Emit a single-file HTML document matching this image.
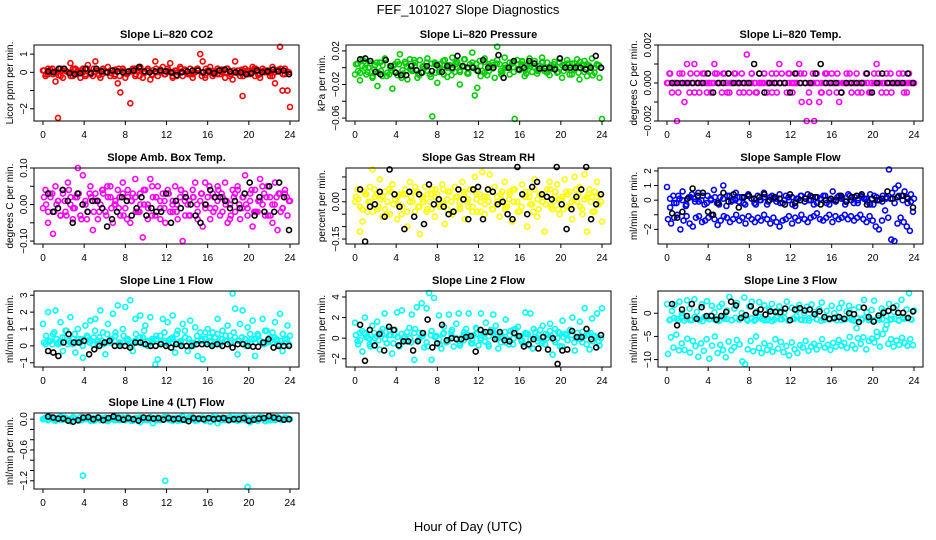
<!DOCTYPE html>
<html><head><meta charset="utf-8"><style>
html,body{margin:0;padding:0;background:#fff}
svg{display:block;font-family:"Liberation Sans",sans-serif}
</style></head><body>
<svg id="chart" width="936" height="540" viewBox="0 0 936 540">
<text x="468" y="14" text-anchor="middle" font-size="13">FEF_101027  Slope Diagnostics</text>
<text x="468" y="531" text-anchor="middle" font-size="13">Hour of Day (UTC)</text>
</svg>
<script>
const xTicks=[0,4,8,12,16,20,24];
const p1Color=[0.1,-0.2,0.2,0.0,-0.1,-0.5,-2.5,0.2,-0.3,0.1,0.0,0.5,-0.2,0.2,0.1,-0.3,0.2,-0.1,0.4,0.0,-0.2,0.6,0.1,-0.3,0.2,0.0,0.3,-0.2,0.1,-0.1,-0.6,-1.1,0.2,-0.3,0.0,-1.7,0.2,-0.2,0.1,0.3,-0.3,0.0,0.2,-0.4,0.1,0.6,-0.2,0.0,0.3,-0.1,0.2,0.5,-0.3,0.1,0.0,0.3,-0.2,0.1,-0.1,0.2,-0.3,0.0,0.2,1.0,0.6,-0.3,0.1,0.3,-0.2,0.0,0.2,-0.1,0.1,-0.3,0.2,0.0,-0.4,0.6,0.1,-0.2,-1.3,0.2,-0.1,0.0,0.3,-0.2,0.1,-0.3,0.2,0.0,0.1,-0.2,0.3,-0.6,0.1,1.4,-1.0,0.2,-1.0,-1.9];
const p1Band=[0.1,-0.1,0.2,0.0,-0.2,0.1,0.0,0.2,-0.1,0.1,-0.2,0.0,0.2,0.1,-0.1,0.0,0.1,-0.2,0.2,0.0,-0.1,0.1,0.2,-0.2,0.0,0.1,-0.1,0.2,0.0,-0.1,0.1,0.0,-0.2,0.2,0.1,-0.1,0.0,0.1,-0.2,0.2,0.0,-0.1,0.1,0.0,0.2,-0.1,0.0,0.1,-0.2,0.1,0.0,0.2,-0.1,0.1,0.0,-0.2,0.1,0.2,-0.1,0.0];
const p1Extra=[-0.1,0.15,0.0,-0.15,0.1,0.05,-0.2,0.15,-0.05,0.0,0.2,-0.1,0.05,-0.15,0.1,0.0,-0.05,0.15,-0.2,0.1,0.0,0.05,-0.1,0.2,-0.05,0.1,-0.15,0.0,0.15,-0.1,0.05,-0.2,0.1,0.0,0.15,-0.05,-0.1,0.2,0.0,-0.15,0.1,0.05,-0.1,0.15,0.0,-0.2,0.1,-0.05,0.15,0.0,-0.1,0.2,-0.15,0.05,0.1,-0.05,0.0,0.15,-0.1,0.05];
const p1Black=[0.05,0.0,0.2,0.2,-0.05,-0.1,-0.05,0.2,-0.05,0.2,0.05,0.0,0.1,0.05,0.0,0.05,0.1,0.3,0.05,0.0,0.05,0.1,0.05,0.0,-0.15,0.0,0.05,0.1,0.1,0.0,0.05,-0.05,0.1,0.15,0.05,0.0,0.0,-0.1,-0.05,0.1,0.0,0.05,0.15,0.05,0.1,-0.1];
const p2Color=[-0.008,0.005,-0.015,0.01,0.0,-0.005,0.008,-0.012,0.003,-0.022,0.006,-0.01,0.011,-0.006,0.002,-0.025,0.004,-0.009,0.016,-0.003,0.007,-0.014,0.01,-0.004,0.002,-0.012,0.009,-0.006,0.0,0.011,-0.008,-0.058,0.006,-0.018,0.004,-0.002,0.009,-0.011,0.003,0.012,-0.005,0.007,-0.02,0.001,0.01,-0.007,0.004,0.018,-0.033,-0.024,0.008,-0.004,0.011,-0.009,0.002,0.006,-0.012,0.025,0.004,-0.006,0.012,0.0,-0.008,0.005,-0.061,0.009,-0.003,0.007,-0.01,0.003,0.011,-0.005,0.008,-0.007,0.002,0.012,-0.004,0.006,-0.009,0.0,0.007,-0.006,0.011,-0.012,0.003,0.009,-0.008,0.005,-0.002,0.01,-0.014,0.004,0.008,-0.01,0.002,0.011,-0.006,0.003,-0.012,-0.061];
const p2Band=[0.004,-0.006,0.008,0.0,-0.01,0.006,-0.004,0.01,-0.008,0.002,0.007,-0.012,0.005,-0.002,0.009,-0.007,0.001,0.006,-0.011,0.004,-0.005,0.008,0.0,-0.009,0.006,-0.003,0.01,-0.006,0.002,0.005,-0.01,0.007,-0.004,0.003,0.009,-0.008,0.0,0.006,-0.005,0.004,0.008,-0.007,0.002,0.005,-0.003,0.007,-0.006,0.003,0.0,0.006,-0.004,0.005,-0.008,0.002,0.007,-0.005,0.003,-0.009,0.004,0.0];
const p2Extra=[-0.004,0.002,-0.008,0.005,-0.002,-0.006,0.003,-0.01,0.0,-0.005,0.004,-0.007,0.001,-0.003,0.006,-0.009,0.002,-0.004,0.005,-0.006,0.0,-0.008,0.003,-0.002,0.004,-0.005,0.001,-0.007,0.006,-0.003,0.002,-0.006,0.004,-0.001,0.005,-0.004,0.003,0.0,0.006,-0.002,0.004,-0.003,0.005,0.001,-0.004,0.006,0.0,-0.002,0.004,-0.005,0.003,0.001,-0.003,0.005,-0.006,0.002,0.004,-0.004,0.0,0.003];
const p2Black=[0.010,0.011,0.008,-0.005,-0.008,0.009,0.002,-0.006,-0.009,-0.009,0.002,-0.003,-0.006,0.002,-0.004,0.003,-0.005,0.002,0.0,0.014,0.002,0.0,0.0,-0.004,0.009,0.0,0.0,0.015,-0.012,0.0,0.008,-0.002,0.0,0.008,0.005,-0.001,-0.001,0.0,-0.002,0.011,0.0,0.0,0.0,0.0,-0.002,0.0,0.014,0.0];
const p3Color=[0,0.0005,-0.0005,0,-0.002,0.0005,0,-0.001,0.001,-0.0005,0,0.001,0.0005,-0.0005,0,0.0005,-0.0005,0,0,0.001,0.0005,0,-0.0005,0.0005,0,-0.0005,0,0.0005,0,-0.0005,0.0005,0,0.0015,-0.0005,0.0005,0,-0.0005,0.0005,0,0.0005,-0.0005,0,0.0005,0,-0.0005,0.001,0.0005,0,-0.0005,0.0005,0,0,0.0005,0.001,-0.001,0.0005,-0.002,-0.001,0,-0.002,0.0005,-0.001,-0.0005,0,0.0005,-0.0005,0.0005,0,-0.0005,-0.001,-0.0005,0,0.0005,0,-0.0005,0,0.0005,0,-0.0005,0,0.0005,-0.0005,0,0.0005,0.001,0,-0.0005,0,0.0005,0,-0.0005,0,0,0.0005,0,-0.0005,0,0.0005,0,0];
const p3Band=[0,0,0,0,0,0,0,0,0,0,0,0,0,0,0,0,0,0,0,0,0,0,0,0,0,0,0,0,0,0,0,0,0,0,0,0,0,0,0,0,0,0,0,0,0,0,0,0,0,0,0,0,0,0,0,0,0,0,0,0];
const p3Extra=[0.0005,0,-0.0005,0.0005,0,0.0005,-0.0005,0,0.0005,0,-0.0005,0.0005,0,0.0005,-0.0005,0,0.0005,0,-0.0005,0,0.0005,-0.0005,0,0.0005,0,-0.0005,0.0005,0,0,0.0005,-0.0005,0,0.0005,0,-0.0005,0.0005,0,-0.0005,0.0005,0,0,0.0005,-0.0005,0,0.0005,0,-0.0005,0,0.0005,-0.0005,0,0.0005,0,-0.0005,0.0005,0,0,0.0005,-0.0005,0];
const p3Black=[0,0,0,0,0,0,0,0.0005,-0.0005,0,0,0.0005,0,0,0,0,0.001,0.0005,-0.0005,0,0,0,0,-0.0005,0.0005,0,0,0,0.0005,0.001,0,0,0,-0.0005,0,0,0,0,0.0005,-0.0005,0,0.0005,0,0,0,0,0.0005,0];
const p4Color=[-0.01,0.04,-0.05,0.02,-0.08,0.05,0.01,-0.03,0.03,-0.02,0.06,0.0,-0.04,0.02,0.1,-0.03,0.08,0.01,-0.02,0.05,-0.07,0.03,-0.04,0.0,0.04,-0.02,0.02,0.05,-0.05,0.01,0.04,-0.03,0.06,-0.01,0.02,-0.05,0.03,0.07,-0.02,0.0,-0.09,0.04,-0.04,0.07,0.02,-0.03,0.05,-0.01,0.03,-0.05,0.04,-0.02,0.01,0.05,-0.04,0.02,-0.1,0.03,0.0,-0.03,0.04,0.06,-0.02,0.01,-0.06,0.06,0.02,-0.04,0.03,-0.01,0.05,-0.03,0.02,0.06,-0.05,0.0,0.04,-0.02,0.05,-0.04,0.02,0.08,-0.03,0.01,-0.06,0.04,-0.02,0.07,0.0,-0.03,0.05,0.02,-0.05,0.06,-0.07,0.03,-0.01,0.04,-0.03,0.01];
const p4Band=[0.02,-0.02,0.03,0.0,-0.03,0.01,0.04,-0.01,0.02,-0.04,0.0,0.03,-0.02,0.01,0.04,-0.03,0.02,0.0,-0.01,0.03,-0.04,0.01,0.02,-0.02,0.04,0.0,-0.03,0.02,0.01,-0.01,0.03,-0.02,0.0,0.04,-0.03,0.01,0.02,-0.04,0.03,0.0,-0.01,0.02,0.04,-0.02,0.01,-0.03,0.03,0.0,0.02,-0.01,0.04,-0.02,0.01,0.03,-0.03,0.0,0.02,-0.02,0.03,0.01];
const p4Extra=[0.0,0.03,-0.02,0.01,0.04,-0.03,0.02,-0.01,0.03,0.0,-0.04,0.02,0.01,-0.02,0.03,0.05,-0.01,0.0,0.02,-0.03,0.04,0.01,-0.02,0.03,0.0,-0.01,0.05,0.02,-0.04,0.01,0.03,0.0,-0.02,0.04,0.01,-0.03,0.02,0.0,0.03,-0.01,0.05,-0.02,0.01,0.03,0.0,-0.04,0.02,0.04,-0.01,0.0,0.03,-0.02,0.01,0.05,0.02,-0.03,0.0,0.03,-0.01,0.02];
const p4Black=[0.03,-0.02,-0.01,0.04,0.01,-0.05,0.03,0.0,-0.02,0.01,0.01,-0.01,-0.06,-0.04,-0.02,0.02,0.01,-0.03,-0.01,0.02,-0.03,-0.01,-0.02,-0.02,0.03,-0.05,0.01,-0.01,0.02,0.0,-0.03,-0.05,0.0,0.04,0.02,0.02,0.01,-0.01,0.01,-0.01,0.03,0.06,-0.03,0.02,-0.02,0.05,-0.02,0.06,0.02,-0.07];
const p5Color=[0.0,0.05,-0.12,-0.08,0.03,-0.04,0.06,0.13,0.02,-0.03,0.09,-0.06,0.04,0.0,-0.05,0.07,0.01,-0.07,0.03,-0.02,0.05,-0.1,0.08,0.0,-0.04,0.04,-0.13,0.02,0.06,-0.03,0.0,0.05,-0.06,0.03,-0.02,0.07,-0.09,0.01,0.04,-0.05,0.06,0.02,-0.03,0.08,-0.07,0.0,0.05,-0.02,0.1,-0.04,0.03,0.12,-0.05,0.02,0.11,-0.03,0.06,0.0,-0.06,0.04,0.08,-0.02,0.03,-0.08,0.05,0.0,-0.04,0.07,0.02,-0.1,0.04,-0.01,0.09,-0.06,0.03,0.0,-0.12,0.05,0.08,-0.03,0.02,0.07,-0.05,0.01,0.09,-0.02,0.04,-0.07,0.1,0.0,0.06,-0.03,0.11,-0.12,0.05,0.02,-0.04,0.08,0.03,-0.08];
const p5Band=[0.02,-0.02,0.04,0.0,-0.04,0.03,0.01,-0.03,0.05,-0.01,0.02,-0.05,0.03,0.0,0.04,-0.02,0.01,-0.04,0.03,0.02,-0.01,0.05,-0.03,0.0,0.02,-0.02,0.04,0.01,-0.04,0.03,0.0,-0.01,0.05,-0.03,0.02,0.01,-0.02,0.04,0.0,-0.04,0.03,0.02,-0.01,0.05,-0.03,0.0,0.02,-0.02,0.04,0.01,-0.03,0.03,0.0,0.05,-0.02,0.01,0.03,-0.04,0.02,0.0];
const p5Extra=[0.01,-0.03,0.03,0.0,0.05,-0.02,0.02,-0.05,0.04,0.01,-0.01,0.03,-0.04,0.02,0.06,-0.02,0.0,0.03,-0.03,0.05,0.01,-0.01,0.04,-0.05,0.02,0.0,0.03,-0.02,0.05,0.01,-0.04,0.02,0.0,0.04,-0.01,0.03,-0.03,0.01,0.05,0.0,-0.02,0.04,0.02,-0.04,0.01,0.03,-0.01,0.05,0.0,-0.03,0.02,0.04,-0.02,0.01,0.03,-0.05,0.02,0.0,0.04,-0.01];
const p5Black=[0.05,-0.16,-0.02,-0.01,0.04,-0.06,0.13,0.03,-0.02,-0.11,0.04,-0.06,0.03,-0.09,0.07,-0.01,0.01,-0.02,-0.05,-0.04,0.05,0.01,-0.07,0.05,0.06,-0.07,0.05,0.04,-0.01,0.0,-0.05,-0.07,0.14,0.03,-0.05,0.06,0.08,0.03,0.02,0.01,0.14,-0.01,-0.11,-0.03,0.02,0.05,0.14,-0.07,-0.01,0.03];
const p6Color=[0.9,-0.5,0.3,-0.2,0.1,0.6,-0.4,0.2,0.4,-0.1,0.5,0.0,-0.3,0.3,0.1,0.7,-0.2,0.2,1.0,-0.4,0.3,0.0,0.5,-0.1,0.2,-0.3,0.4,0.1,-0.2,0.3,0.0,0.5,-0.3,0.2,0.1,-0.1,0.4,-0.2,0.3,0.0,0.2,-0.4,0.1,0.3,-0.1,0.4,0.0,-0.3,0.2,0.1,0.3,-0.2,0.0,0.6,-0.1,0.3,0.2,-0.3,0.4,0.0,0.2,-0.2,0.3,0.1,-0.1,0.4,-0.3,0.2,0.0,0.3,0.1,2.1,0.5,0.8,1.0,0.3,0.6,-0.2,0.4,0.1];
const p6Band=[-1.3,-1.6,-1.2,-1.0,-2.0,-1.4,-1.1,-1.6,-1.8,-1.2,-1.1,-1.5,-1.4,-1.2,-1.0,-1.3,-1.7,-1.4,-1.1,-1.2,-1.5,-1.3,-1.0,-1.4,-1.2,-1.6,-1.1,-1.3,-1.5,-1.2,-1.4,-1.0,-1.3,-1.6,-1.2,-1.5,-1.8,-1.4,-1.3,-1.1,-1.6,-1.2,-1.4,-1.0,-1.3,-1.5,-1.2,-1.1,-0.9,-1.3,-1.4,-1.2,-1.0,-1.5,-1.1,-1.3,-1.2,-1.0,-1.3,-1.1,-1.4,-1.2,-1.0,-1.3,-1.5,-1.1,-1.4,-1.8,-2.0,-1.4,-0.7,-1.2,-2.7,-2.8,-1.6,-1.2,-1.5,-1.8,-2.1,-0.8];
const p6Extra=[0.1,-0.2,0.3,0.0,-0.3,0.2,0.1,-0.1,0.3,-0.2,0.0,0.2,-0.3,0.1,0.3,-0.1,0.0,0.2,-0.2,0.3,0.1,-0.3,0.0,0.2,-0.1,0.3,0.1,-0.2,0.0,0.2,-0.3,0.1,0.3,-0.1,0.0,0.2,-0.2,0.1,0.3,-0.3,0.0,0.2,0.1,-0.1,0.3,-0.2,0.0,0.2,0.1,-0.3,0.3,0.0,-0.1,0.2,0.1,-0.2,0.3,0.0,0.2,-0.1];
const p6Black=[-0.9,-1.2,-0.8,0.1,0.8,0.3,0.5,-0.8,-1.0,-0.2,0.5,-0.1,0.4,-0.5,0.2,0.3,0.1,0.2,0.4,0.0,0.2,0.1,-0.3,0.4,-0.2,0.0,0.1,0.3,0.2,-0.3,0.0,0.1,0.0,0.3,-0.1,0.2,0.3,0.4,-0.3,0.1,0.0,0.1,0.6,0.1,0.2,0.3,0.1,-0.5];
const p7Color=[1.3,0.1,2.0,0.3,0.7,2.1,0.2,1.4,-0.3,0.9,0.1,1.7,0.4,-0.4,1.0,0.2,-0.7,1.2,0.5,1.5,0.1,1.6,0.3,2.1,0.8,-0.5,1.3,0.2,1.9,0.6,2.4,0.1,1.0,2.3,0.4,2.7,-0.3,1.6,0.2,1.8,0.5,1.2,0.0,1.7,0.3,-1.1,-0.8,0.6,1.6,0.2,1.4,0.4,1.8,-0.4,0.9,0.1,1.3,0.5,-0.3,1.5,0.2,1.1,-0.6,0.8,-0.8,0.4,1.0,0.2,0.8,0.5,1.6,0.1,0.9,0.3,1.2,0.6,3.1,2.2,-0.5,1.3,2.1,0.4,1.1,0.2,1.5,-0.6,0.7,0.3,1.6,0.9,0.2,0.5,0.8,1.4,0.3,1.9,-0.3,0.4,1.2,0.6];
const p7Band=[0.2,0.3,0.1,0.4,0.2,0.5,0.3,0.1,0.2,0.4,0.3,0.2,0.5,0.1,0.3,0.2,0.4,0.3,0.1,0.2,0.4,0.2,0.3,0.5,0.1,0.3,0.2,0.4,0.2,0.3,0.1,0.4,0.2,0.3,0.5,0.2,0.1,0.3,0.4,0.2,0.3,0.1,0.2,0.4,0.3,0.2,0.5,0.3,0.1,0.2,0.4,0.2,0.3,0.1,0.3,0.2,0.4,0.3,0.2,0.1];
const p7Extra=[0.6,0.3,0.8,0.1,0.5,0.9,0.2,0.7,0.4,0.0,0.6,0.3,0.9,0.5,0.1,0.7,0.4,0.8,0.2,0.6,0.3,0.0,0.7,0.5,0.9,0.2,0.4,0.6,0.1,0.8,0.3,0.5,0.7,0.2,0.9,0.4,0.0,0.6,0.3,0.8,0.5,0.1,0.7,0.4,0.6,0.2,0.8,0.3,0.5,0.0,0.7,0.4,0.6,0.2,0.9,0.3,0.5,0.1,0.7,0.4];
const p7Black=[-0.3,-0.4,-0.6,0.2,0.7,0.2,0.2,0.3,-0.5,-0.2,0.0,0.2,0.3,0.0,0.0,0.0,-0.1,0.2,0.2,0.1,0.0,0.0,0.1,0.0,-0.1,0.1,0.0,0.0,0.0,0.1,0.1,0.1,0.0,0.1,0.0,0.1,-0.1,0.1,0.1,0.0,-0.05,-0.05,0.2,0.4,-0.1,0.0,0.0,0.0];
const p8Color=[1.5,-0.3,0.5,-1.3,2.0,0.2,-0.6,1.2,0.0,1.6,-1.1,0.4,2.4,-0.5,0.8,-1.5,0.3,2.5,-0.8,2.7,0.1,-0.3,1.0,2.3,-2.1,3.0,0.5,3.4,-0.9,2.9,4.4,-2.1,3.9,0.2,2.2,-1.0,1.1,-0.4,2.3,0.6,-0.8,1.4,2.4,0.0,-0.2,0.9,2.4,-0.5,0.3,1.0,-0.7,2.4,0.5,1.5,-0.6,0.8,2.3,1.2,-1.0,0.4,0.0,1.8,-0.3,0.7,-0.6,0.9,1.1,0.2,-0.5,2.5,0.4,2.4,-1.0,0.6,-0.3,0.8,1.2,-0.6,0.3,1.4,-1.6,0.9,0.0,-0.8,1.7,0.4,-0.2,0.8,2.0,-1.2,0.5,1.6,-0.4,2.9,0.3,-1.1,1.9,0.2,2.4,-0.7,2.9];
const p8Band=[0.3,-0.2,0.5,0.0,-0.4,0.2,0.6,-0.1,0.3,-0.5,0.1,0.4,-0.3,0.0,0.5,-0.2,0.2,-0.4,0.3,0.1,-0.1,0.4,-0.3,0.2,0.0,-0.5,0.3,0.1,-0.2,0.4,0.0,-0.3,0.2,0.5,-0.1,0.1,-0.4,0.3,0.0,0.2,-0.2,0.4,-0.1,0.1,0.3,-0.3,0.0,0.2,-0.4,0.5,0.1,-0.2,0.3,0.0,-0.1,0.2,0.4,-0.3,0.1,0.0];
const p8Extra=[-0.6,0.7,0.1,-0.8,0.5,-0.2,0.9,-0.5,0.3,0.8,-0.7,0.0,0.6,-0.4,0.9,-0.1,0.4,-0.8,0.7,0.2,-0.6,0.5,-0.3,0.8,0.0,-0.7,0.6,0.3,-0.5,0.9,-0.2,0.4,-0.8,0.7,0.1,-0.4,0.6,-0.6,0.8,0.2,-0.3,0.5,-0.7,0.9,0.0,-0.5,0.4,0.7,-0.2,0.6,-0.8,0.3,0.8,-0.4,0.1,0.6,-0.6,0.5,0.2,-0.3];
const p8Black=[1.3,-2.2,0.8,-0.7,0.4,-1.2,1.1,0.8,-0.7,-0.3,-0.3,-1.2,-0.3,0.5,1.8,-0.9,-0.5,1.3,-0.2,0.0,-0.1,-0.1,0.1,0.2,-1.3,0.8,0.6,0.6,-0.1,0.6,-0.2,-0.3,0.5,0.2,-0.8,-0.6,-0.1,-1.0,0.1,-1.1,0.0,-2.5,-1.2,-1.1,0.7,0.1,0.1,0.9,-0.1,-0.9,0.3];
const p9Color=[2.0,-1.5,0.5,1.8,-1.2,2.5,0.0,-1.6,2.8,1.0,-1.4,3.0,0.3,-1.5,1.9,-0.8,2.6,-1.3,1.6,0.2,-1.6,1.4,2.0,-1.2,0.6,3.5,-1.5,1.0,2.2,-1.4,0.0,3.4,-1.3,1.5,2.5,-1.6,0.4,2.4,-1.2,1.7,-1.5,0.8,2.0,-1.4,0.5,1.5,-1.3,0.2,2.5,-1.5,1.2,-1.2,0.6,1.8,-1.4,0.0,1.4,-1.6,1.9,0.3,-1.3,0.9,2.3,-1.4,0.5,-1.2,1.6,0.0,-1.5,1.1,2.2,-1.3,0.4,1.6,-1.4,0.8,-3.2,1.3,-1.2,2.9,0.2,-1.5,0.7,2.7,-4.0,-1.4,1.0,0.5,-2.5,2.0,-1.3,0.3,1.6,-1.5,2.9,-1.2,0.8,4.3,-1.4,0.6];
const p9Band=[-8.8,-5.2,-7.4,-4.6,-8.0,-6.5,-7.9,-5.5,-8.5,-6.0,-7.1,-9.4,-6.5,-8.1,-5.6,-9.8,-7.0,-5.0,-8.6,-6.8,-7.9,-9.5,-6.1,-8.0,-7.3,-5.8,-6.7,-10.4,-11.0,-7.8,-6.0,-8.2,-5.0,-7.5,-8.6,-6.5,-7.9,-7.0,-8.3,-5.6,-7.6,-6.2,-8.4,-7.1,-9.1,-6.3,-7.8,-8.6,-6.9,-7.4,-6.0,-8.1,-7.2,-6.6,-7.8,-7.0,-5.6,-7.4,-6.8,-7.9,-6.4,-7.2,-5.8,-7.0,-6.4,-7.5,-5.1,-6.9,-7.6,-5.4,-6.6,-5.2,-7.8,-6.0,-5.5,-6.3,-5.0,-7.2,-4.5,-3.4,-6.6,-5.6,-7.2,-5.9,-6.8,-5.3,-6.4,-7.0,-5.6,-6.9];
const p9Extra=[-1.4,-1.0,-1.6,-0.6,-1.2,-1.5,-0.8,-1.3,-1.7,-1.1,-0.5,-1.4,-1.6,-0.9,-1.2,-1.5,-1.0,-1.3,-0.7,-1.6,-1.1,-1.4,-0.8,-1.5,-1.2,-1.7,-0.9,-1.3,-1.0,-1.6,-1.2,-0.6,-1.4,-1.5,-1.1,-0.8,-1.3,-1.6,-1.0,-1.4,-1.2,-0.7,-1.5,-1.3,-0.9,-1.6,-1.1,-1.4,-0.8,-1.2,-1.5,-1.0,-1.3,-0.6,-1.4,-1.2,-1.6,-0.9,-1.1,-1.3];
const p9Black=[2.0,-2.6,0.8,-0.6,2.0,-1.2,1.3,-0.6,-0.6,-1.4,-0.6,0.3,2.5,1.7,-1.0,-0.4,1.5,0.1,0.8,-0.3,0.4,0.3,0.2,1.0,-1.5,0.8,1.1,0.6,0.8,-0.2,0.4,-0.8,-1.2,-1.0,-0.8,-1.2,0.0,-0.2,-1.9,1.2,-0.8,-1.8,-0.5,0.1,0.5,1.2,0.1,0.1,-1.0,0.4];
const p10Color=[0.0,0.03,-0.02,0.04,0.0,-0.03,0.02,0.05,-0.01,0.03,0.0,-0.04,0.02,0.01,-0.02,0.04,-1.1,0.0,0.03,-0.03,0.02,0.0,0.04,-0.02,0.01,0.03,-0.04,0.0,0.02,0.05,-0.01,0.0,0.03,-0.02,0.04,0.01,-0.03,0.02,0.0,-0.06,0.03,0.01,-0.02,0.04,-0.08,0.0,0.03,-0.02,0.01,-1.2,0.04,-0.01,0.02,0.0,-0.03,0.03,0.05,-0.02,0.0,0.02,0.04,-0.03,0.01,0.0,0.03,-0.02,0.02,-0.05,0.04,0.0,-0.08,0.01,0.03,-0.02,0.0,0.04,-0.01,0.02,-0.03,0.03,0.0,0.05,-1.32,-0.06,0.02,0.0,-0.03,0.04,0.01,-0.04,0.02,0.0,0.03,-0.02,0.04,0.0,-0.01,0.03,0.02,0.0];
const p10Band=[0.01,-0.02,0.03,0.0,-0.01,0.02,-0.03,0.04,0.0,-0.02,0.02,0.01,-0.03,0.03,0.0,-0.01,0.02,-0.02,0.04,0.0,0.01,-0.03,0.02,0.0,0.03,-0.01,0.02,-0.02,0.0,0.04,0.01,-0.03,0.02,0.0,-0.01,0.03,0.0,-0.02,0.02,0.01,-0.04,0.03,0.0,0.02,-0.01,0.01,0.03,-0.02,0.0,0.02,-0.03,0.01,0.04,0.0,-0.02,0.02,0.01,-0.01,0.03,0.0];
const p10Extra=[0.0,0.02,-0.02,0.01,0.03,-0.01,0.0,0.02,-0.03,0.01,0.03,0.0,-0.02,0.02,0.01,-0.01,0.03,0.0,-0.02,0.01,0.02,-0.03,0.0,0.03,-0.01,0.02,0.0,-0.02,0.01,0.03,-0.01,0.0,0.02,-0.02,0.01,0.03,0.0,-0.01,0.02,-0.03,0.01,0.0,0.03,-0.02,0.02,0.0,-0.01,0.03,0.01,-0.02,0.0,0.02,-0.01,0.03,0.0,-0.02,0.01,0.02,-0.01,0.0];
const p10Black=[0.05,0.03,0.01,0.01,-0.03,-0.05,-0.02,0.03,0.04,0.0,0.03,-0.02,0.02,0.05,0.02,-0.01,0.02,0.0,-0.03,0.03,0.02,0.01,0.02,-0.01,0.02,0.0,0.01,-0.01,-0.04,0.02,0.01,0.0,0.02,0.0,0.01,0.02,-0.02,0.0,0.0,0.02,-0.03,-0.01,0.01,0.02,0.06,0.03,0.01,-0.01,0.0];

const panels=[
 {name:'co2',title:'Slope Li\u2013820 CO2',ylab:'Licor ppm per min.',col:'#ff0000',c:p1Color,b:p1Band,e:p1Extra,k:p1Black,ymin:-2.67,ymax:1.5,ticks:[-2,-1,0,1],labels:{'-2':'\u22122','0':'0','1':'1'}},
 {name:'pressure',title:'Slope Li\u2013820 Pressure',ylab:'kPa per min.',col:'#00cd00',c:p2Color,b:p2Band,e:p2Extra,k:p2Black,ymin:-0.0635,ymax:0.027,ticks:[-0.06,-0.04,-0.02,0,0.02],labels:{'-0.06':'\u22120.06','-0.02':'\u22120.02','0.02':'0.02'}},
 {name:'temp',title:'Slope Li\u2013820 Temp.',ylab:'degrees C per min.',col:'#ff00ff',c:p3Color,b:p3Band,e:p3Extra,k:p3Black,ymin:-0.002,ymax:0.002,ticks:[-0.002,-0.001,0,0.001,0.002],labels:{'-0.002':'\u22120.002','0':'0.000','0.002':'0.002'}},
 {name:'amb-box-temp',title:'Slope Amb. Box Temp.',ylab:'degrees C per min.',col:'#ff00ff',c:p4Color,b:p4Band,e:p4Extra,k:p4Black,ymin:-0.108,ymax:0.10,ticks:[-0.1,-0.05,0,0.05,0.1],labels:{'-0.1':'\u22120.10','0':'0.00','0.1':'0.10'}},
 {name:'gas-stream-rh',title:'Slope Gas Stream RH',ylab:'percent per min.',col:'#ffff00',c:p5Color,b:p5Band,e:p5Extra,k:p5Black,ymin:-0.17,ymax:0.136,ticks:[-0.15,-0.1,-0.05,0,0.05,0.1],labels:{'-0.15':'\u22120.15','0':'0.00'}},
 {name:'sample-flow',title:'Slope Sample Flow',ylab:'ml/min per min.',col:'#0000ff',c:p6Color,b:p6Band,e:p6Extra,k:p6Black,ymin:-3.0,ymax:2.2,ticks:[-2,-1,0,1,2],labels:{'-2':'\u22122','0':'0','1':'1','2':'2'}},
 {name:'line1-flow',title:'Slope Line 1 Flow',ylab:'ml/min per min.',col:'#00ffff',c:p7Color,b:p7Band,e:p7Extra,k:p7Black,ymin:-1.25,ymax:3.25,ticks:[-1,0,1,2,3],labels:{'-1':'\u22121','0':'0','1':'1','2':'2','3':'3'}},
 {name:'line2-flow',title:'Slope Line 2 Flow',ylab:'ml/min per min.',col:'#00ffff',c:p8Color,b:p8Band,e:p8Extra,k:p8Black,ymin:-2.8,ymax:4.58,ticks:[-2,0,2,4],labels:{'-2':'\u22122','0':'0','2':'2','4':'4'}},
 {name:'line3-flow',title:'Slope Line 3 Flow',ylab:'ml/min per min.',col:'#00ffff',c:p9Color,b:p9Band,e:p9Extra,k:p9Black,ymin:-11.6,ymax:4.8,ticks:[-10,-5,0],labels:{'-10':'\u221210','-5':'\u22125','0':'0'}},
 {name:'line4-flow',title:'Slope Line 4 (LT) Flow',ylab:'ml/min per min.',col:'#00ffff',c:p10Color,b:p10Band,e:p10Extra,k:p10Black,ymin:-1.36,ymax:0.12,ticks:[-1.2,-1.0,-0.8,-0.6,-0.4,-0.2,0],labels:{'-1.2':'\u22121.2','-0.6':'\u22120.6','0':'0.0'}}
];
const NS='http://www.w3.org/2000/svg';
const svg=document.getElementById('chart');
const rowTops=[45,168,291,413];
function mk(tag,attrs,parent){const e=document.createElementNS(NS,tag);for(const a in attrs)e.setAttribute(a,attrs[a]);parent.appendChild(e);return e;}
panels.forEach((p,idx)=>{
  const col=idx%3,row=Math.floor(idx/3);
  const L=34+312*col,R=L+265,T=rowTops[row],B=T+76;
  const g=mk('g',{},svg);
  
  
  const xs=h=>L+9+h*(247/24);
  const ys=v=>B-(v-p.ymin)/(p.ymax-p.ymin)*(B-T);
  const t=mk('text',{x:(L+R)/2,y:T-7,'text-anchor':'middle','font-size':'11','font-weight':'bold'},g);
  t.textContent=p.title;
  
  
  const yl=mk('text',{x:0,y:0,'text-anchor':'middle','font-size':'10',transform:`translate(${L-21},${(T+B)/2}) rotate(-90)`},g);
  yl.textContent=p.ylab;
  
  
  const pts=mk('g',{fill:'none','stroke-width':'1.6'},g);
  
  
  const drawSeries=(arr,color,x0,x1,nm)=>{arr.forEach((v,i)=>{
    const h=x0+i*(x1-x0)/(arr.length-1);
    const c=mk('circle',{cx:xs(h).toFixed(1),cy:ys(v).toFixed(1),r:'2.5',stroke:color},pts);
    
    
  });};
  drawSeries(p.c,p.col,0,24,'point-colored');
  drawSeries(p.b,p.col,0.1,23.9,'point-colored');
  drawSeries(p.e,p.col,0.3,23.7,'point-colored');
  drawSeries(p.k,'#000',0.5,23.9,'point-black');
  const box=mk('rect',{x:L,y:T,width:R-L,height:B-T,fill:'none',stroke:'#000','stroke-width':'1'},g);
  
  
  xTicks.forEach(h=>{
    const x=xs(h);
    mk('line',{x1:x,x2:x,y1:B,y2:B+4,stroke:'#000'},g);
    const tl=mk('text',{x:x,y:B+17,'text-anchor':'middle','font-size':'10'},g);
    tl.textContent=h;
    
    
  });
  p.ticks.forEach(v=>{
    const y=ys(v);
    mk('line',{x1:L-4,x2:L,y1:y,y2:y,stroke:'#000'},g);
    const key=String(v);
    if(p.labels[key]!==undefined){
      const tl=mk('text',{x:0,y:0,'text-anchor':'middle','font-size':'10',transform:`translate(${L-7},${y}) rotate(-90)`},g);
      tl.textContent=p.labels[key];
      
      
    }
  });
});
</script>
</body></html>
